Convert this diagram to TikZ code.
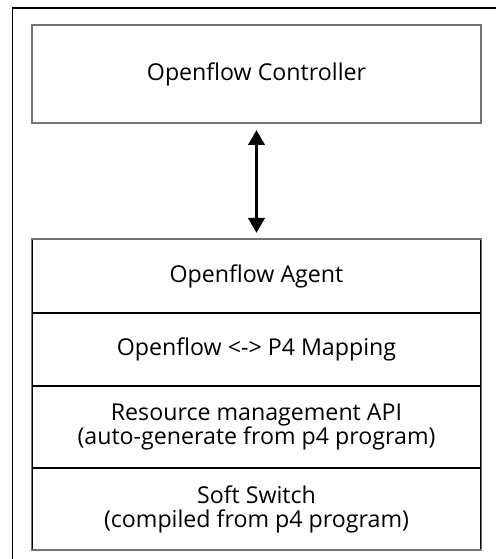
\documentclass[tikz,border=0pt]{standalone}
\usepackage{fontspec}
\setmainfont{Open Sans}
\usetikzlibrary{arrows.meta,positioning}

\tikzset{
	layer/.style={draw=black, line width=0.6pt, minimum width=8.98cm, inner sep=0pt, align=center},
	frame/.style={draw=black!55, line width=1.1pt}
}

\begin{document}
\begin{tikzpicture}[x=0.02cm, y=-0.02cm, every node/.style={font=\fontsize{13.2}{13.6}\selectfont}]
	\useasboundingbox (0,0) rectangle (496,559);
	% page frame, only left and top edges visible
	\draw[line width=0.8pt] (12.5,559) -- (12.5,8) -- (496,8);

	\node[layer, frame, minimum height=1.96cm] (ctrl) at (256.5,74) {Openflow Controller};

	% switch side stack
	\node[layer, minimum height=1.46cm, below=2.3cm of ctrl] (agent) {Openflow Agent};
	\node[layer, minimum height=1.44cm, below=0pt of agent] (mapping) {Openflow <-> P4 Mapping};
	\node[layer, minimum height=1.62cm, below=0pt of mapping] (api) {Resource management API\\(auto-generate from p4 program)};
	\node[layer, minimum height=1.62cm, below=0pt of api] (switch) {Soft Switch\\(compiled from p4 program)};
	\draw[frame] (agent.north west) rectangle (switch.south east);

	\draw[{Triangle[width=0.32cm, length=0.3cm]}-{Triangle[width=0.32cm, length=0.3cm]}, line width=2.2pt, shorten <=0.12cm, shorten >=0.12cm] (ctrl.south) -- (agent.north);
\end{tikzpicture}
\end{document}
